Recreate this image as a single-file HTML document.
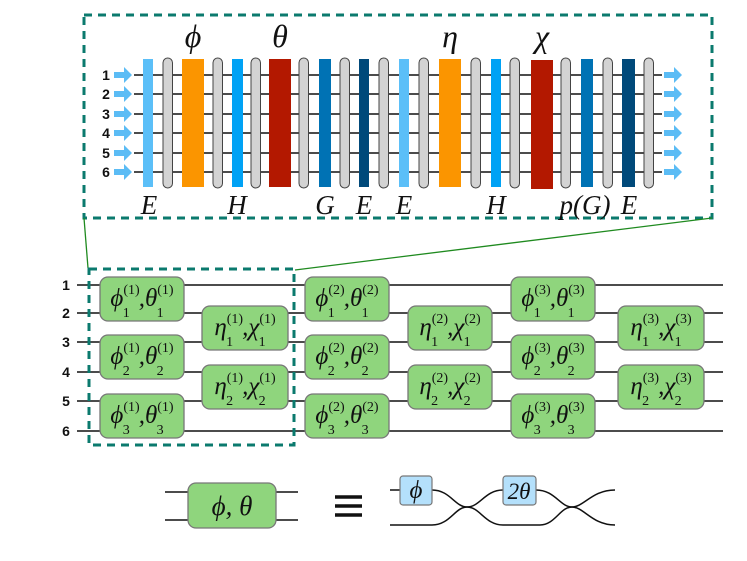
<!DOCTYPE html>
<html><head><meta charset="utf-8"><style>
html,body{margin:0;padding:0;background:#fff;}
svg{display:block;}
.m{font-family:"Liberation Serif","DejaVu Serif",serif;font-style:italic;font-size:25px;fill:#111;}
.s{font-style:normal;font-size:14px;}
.n{font-family:"Liberation Sans",sans-serif;font-weight:bold;font-size:14px;fill:#111;}
.lab{font-family:"Liberation Serif",serif;font-style:italic;font-size:27px;fill:#111;text-anchor:middle;}
.big{font-family:"Liberation Serif",serif;font-style:italic;font-size:32px;fill:#111;text-anchor:middle;}
.g{fill:#d3d3d3;stroke:#444;stroke-width:1;}
.bx{fill:#8fd57d;stroke:#777;stroke-width:1.3;}
</style></head><body>
<svg width="747" height="561" viewBox="0 0 747 561" xmlns="http://www.w3.org/2000/svg">
<rect x="84" y="15" width="628" height="203" fill="none" stroke="#0b7a6e" stroke-width="3" stroke-dasharray="8,6"/>
<line x1="84" y1="218" x2="88" y2="268" stroke="#1f8a1f" stroke-width="1.3"/>
<line x1="712" y1="218" x2="295" y2="270" stroke="#1f8a1f" stroke-width="1.3"/>
<g stroke="#111" stroke-width="1.5">
<line x1="134" y1="75" x2="662" y2="75"/><line x1="134" y1="94" x2="662" y2="94"/>
<line x1="134" y1="114" x2="662" y2="114"/><line x1="134" y1="133" x2="662" y2="133"/>
<line x1="134" y1="153" x2="662" y2="153"/><line x1="134" y1="172" x2="662" y2="172"/>
</g>
<g class="n" text-anchor="middle">
<text x="106" y="80">1</text><text x="106" y="99">2</text><text x="106" y="119">3</text>
<text x="106" y="138">4</text><text x="106" y="158">5</text><text x="106" y="177">6</text>
</g>
<g fill="#5bbcf5">
<path d="M114,72h10v-5l8,8l-8,8v-5h-10z"/><path d="M114,91h10v-5l8,8l-8,8v-5h-10z"/>
<path d="M114,111h10v-5l8,8l-8,8v-5h-10z"/><path d="M114,130h10v-5l8,8l-8,8v-5h-10z"/>
<path d="M114,150h10v-5l8,8l-8,8v-5h-10z"/><path d="M114,169h10v-5l8,8l-8,8v-5h-10z"/>
<path d="M664,72h10v-5l8,8l-8,8v-5h-10z"/><path d="M664,91h10v-5l8,8l-8,8v-5h-10z"/>
<path d="M664,111h10v-5l8,8l-8,8v-5h-10z"/><path d="M664,130h10v-5l8,8l-8,8v-5h-10z"/>
<path d="M664,150h10v-5l8,8l-8,8v-5h-10z"/><path d="M664,169h10v-5l8,8l-8,8v-5h-10z"/>
</g>
<rect x="143" y="59" width="10" height="128" fill="#5bbff8"/>
<rect x="182" y="59" width="22" height="128" fill="#fb9500"/>
<rect x="232" y="59" width="11" height="128" fill="#00a2f5"/>
<rect x="269" y="59" width="22" height="128" fill="#b31800"/>
<rect x="319" y="59" width="12" height="128" fill="#0072b4"/>
<rect x="359" y="59" width="10" height="128" fill="#00497a"/>
<rect x="399" y="59" width="10" height="128" fill="#5bbff8"/>
<rect x="439" y="59" width="22" height="128" fill="#fb9500"/>
<rect x="491" y="59" width="10" height="128" fill="#00a2f5"/>
<rect x="531" y="60" width="22" height="129" fill="#b31800"/>
<rect x="581" y="59" width="12" height="128" fill="#0072b4"/>
<rect x="622" y="59" width="13" height="128" fill="#00497a"/>
<g class="g">
<rect x="163" y="58" width="9.5" height="130" rx="4.75"/>
<rect x="213" y="58" width="9.5" height="130" rx="4.75"/>
<rect x="251" y="58" width="9.5" height="130" rx="4.75"/>
<rect x="299" y="58" width="9.5" height="130" rx="4.75"/>
<rect x="340" y="58" width="9.5" height="130" rx="4.75"/>
<rect x="379" y="58" width="9.5" height="130" rx="4.75"/>
<rect x="419" y="58" width="9.5" height="130" rx="4.75"/>
<rect x="471" y="58" width="9.5" height="130" rx="4.75"/>
<rect x="510" y="58" width="9.5" height="130" rx="4.75"/>
<rect x="561" y="58" width="9.5" height="130" rx="4.75"/>
<rect x="603" y="58" width="9.5" height="130" rx="4.75"/>
<rect x="644" y="58" width="9.5" height="130" rx="4.75"/>
</g>
<text class="big" x="193" y="47">ϕ</text>
<text class="big" x="280" y="47">θ</text>
<text class="big" x="450" y="47">η</text>
<text class="big" x="542" y="47">χ</text>
<g class="lab">
<text x="149" y="214">E</text><text x="237" y="214">H</text><text x="325" y="214">G</text>
<text x="364" y="214">E</text><text x="404" y="214">E</text><text x="496" y="214">H</text>
<text x="585" y="214">p(G)</text><text x="629" y="214">E</text>
</g>
<g stroke="#111" stroke-width="1.5">
<line x1="77" y1="285" x2="723" y2="285"/><line x1="77" y1="313" x2="723" y2="313"/>
<line x1="77" y1="342" x2="723" y2="342"/><line x1="77" y1="372" x2="723" y2="372"/>
<line x1="77" y1="401" x2="723" y2="401"/><line x1="77" y1="431" x2="723" y2="431"/>
</g>
<g class="n" text-anchor="middle">
<text x="66" y="290">1</text><text x="66" y="318">2</text><text x="66" y="347">3</text>
<text x="66" y="377">4</text><text x="66" y="406">5</text><text x="66" y="436">6</text>
</g>
<g class="bx">
<rect x="100" y="277" width="84" height="44" rx="8"/>
<rect x="100" y="335" width="84" height="44" rx="8"/>
<rect x="100" y="394" width="84" height="44" rx="8"/>
<rect x="202" y="306" width="86" height="44" rx="8"/>
<rect x="202" y="365" width="86" height="44" rx="8"/>
<rect x="305" y="277" width="84" height="44" rx="8"/>
<rect x="305" y="335" width="84" height="44" rx="8"/>
<rect x="305" y="394" width="84" height="44" rx="8"/>
<rect x="408" y="306" width="84" height="44" rx="8"/>
<rect x="408" y="365" width="84" height="44" rx="8"/>
<rect x="511" y="277" width="84" height="44" rx="8"/>
<rect x="511" y="335" width="84" height="44" rx="8"/>
<rect x="511" y="394" width="84" height="44" rx="8"/>
<rect x="618" y="306" width="86" height="44" rx="8"/>
<rect x="618" y="365" width="86" height="44" rx="8"/>
</g>
<g class="m" text-anchor="middle">
<text x="142" y="306">ϕ<tspan class="s" dy="-12">(1)</tspan><tspan class="s" dx="-17" dy="23">1</tspan><tspan dx="9" dy="-11">,θ</tspan><tspan class="s" dy="-12">(1)</tspan><tspan class="s" dx="-17" dy="23">1</tspan></text>
<text x="142" y="364">ϕ<tspan class="s" dy="-12">(1)</tspan><tspan class="s" dx="-17" dy="23">2</tspan><tspan dx="9" dy="-11">,θ</tspan><tspan class="s" dy="-12">(1)</tspan><tspan class="s" dx="-17" dy="23">2</tspan></text>
<text x="142" y="423">ϕ<tspan class="s" dy="-12">(1)</tspan><tspan class="s" dx="-17" dy="23">3</tspan><tspan dx="9" dy="-11">,θ</tspan><tspan class="s" dy="-12">(1)</tspan><tspan class="s" dx="-17" dy="23">3</tspan></text>
<text x="245" y="335">η<tspan class="s" dy="-12">(1)</tspan><tspan class="s" dx="-17" dy="23">1</tspan><tspan dx="9" dy="-11">,χ</tspan><tspan class="s" dy="-12">(1)</tspan><tspan class="s" dx="-17" dy="23">1</tspan></text>
<text x="245" y="394">η<tspan class="s" dy="-12">(1)</tspan><tspan class="s" dx="-17" dy="23">2</tspan><tspan dx="9" dy="-11">,χ</tspan><tspan class="s" dy="-12">(1)</tspan><tspan class="s" dx="-17" dy="23">2</tspan></text>
<text x="347" y="306">ϕ<tspan class="s" dy="-12">(2)</tspan><tspan class="s" dx="-17" dy="23">1</tspan><tspan dx="9" dy="-11">,θ</tspan><tspan class="s" dy="-12">(2)</tspan><tspan class="s" dx="-17" dy="23">1</tspan></text>
<text x="347" y="364">ϕ<tspan class="s" dy="-12">(2)</tspan><tspan class="s" dx="-17" dy="23">2</tspan><tspan dx="9" dy="-11">,θ</tspan><tspan class="s" dy="-12">(2)</tspan><tspan class="s" dx="-17" dy="23">2</tspan></text>
<text x="347" y="423">ϕ<tspan class="s" dy="-12">(2)</tspan><tspan class="s" dx="-17" dy="23">3</tspan><tspan dx="9" dy="-11">,θ</tspan><tspan class="s" dy="-12">(2)</tspan><tspan class="s" dx="-17" dy="23">3</tspan></text>
<text x="450" y="335">η<tspan class="s" dy="-12">(2)</tspan><tspan class="s" dx="-17" dy="23">1</tspan><tspan dx="9" dy="-11">,χ</tspan><tspan class="s" dy="-12">(2)</tspan><tspan class="s" dx="-17" dy="23">1</tspan></text>
<text x="450" y="394">η<tspan class="s" dy="-12">(2)</tspan><tspan class="s" dx="-17" dy="23">2</tspan><tspan dx="9" dy="-11">,χ</tspan><tspan class="s" dy="-12">(2)</tspan><tspan class="s" dx="-17" dy="23">2</tspan></text>
<text x="553" y="306">ϕ<tspan class="s" dy="-12">(3)</tspan><tspan class="s" dx="-17" dy="23">1</tspan><tspan dx="9" dy="-11">,θ</tspan><tspan class="s" dy="-12">(3)</tspan><tspan class="s" dx="-17" dy="23">1</tspan></text>
<text x="553" y="364">ϕ<tspan class="s" dy="-12">(3)</tspan><tspan class="s" dx="-17" dy="23">2</tspan><tspan dx="9" dy="-11">,θ</tspan><tspan class="s" dy="-12">(3)</tspan><tspan class="s" dx="-17" dy="23">2</tspan></text>
<text x="553" y="423">ϕ<tspan class="s" dy="-12">(3)</tspan><tspan class="s" dx="-17" dy="23">3</tspan><tspan dx="9" dy="-11">,θ</tspan><tspan class="s" dy="-12">(3)</tspan><tspan class="s" dx="-17" dy="23">3</tspan></text>
<text x="661" y="335">η<tspan class="s" dy="-12">(3)</tspan><tspan class="s" dx="-17" dy="23">1</tspan><tspan dx="9" dy="-11">,χ</tspan><tspan class="s" dy="-12">(3)</tspan><tspan class="s" dx="-17" dy="23">1</tspan></text>
<text x="661" y="394">η<tspan class="s" dy="-12">(3)</tspan><tspan class="s" dx="-17" dy="23">2</tspan><tspan dx="9" dy="-11">,χ</tspan><tspan class="s" dy="-12">(3)</tspan><tspan class="s" dx="-17" dy="23">2</tspan></text>
</g>
<rect x="89" y="269" width="205" height="176" fill="none" stroke="#0b7a6e" stroke-width="3" stroke-dasharray="8,6"/>
<g stroke="#111" stroke-width="1.5" fill="none">
<line x1="165" y1="492" x2="298" y2="492"/><line x1="165" y1="520" x2="298" y2="520"/>
<path d="M390,490 H432 C450,490 455,507 467,507 C480,507 485,525 503,525 H540 C555,525 560,507 572,507 C584,507 592,490 615,490"/>
<path d="M390,525 H432 C450,525 455,507 467,507 C480,507 485,490 503,490 H536 C555,490 560,507 572,507 C584,507 592,525 615,525"/>
</g>
<rect class="bx" x="188" y="483" width="88" height="45" rx="8"/>
<text class="m" x="232" y="515" text-anchor="middle" style="font-size:27px">ϕ, θ</text>
<g stroke="#111" stroke-width="3.5">
<line x1="335" y1="497" x2="362" y2="497"/><line x1="335" y1="506" x2="362" y2="506"/><line x1="335" y1="515" x2="362" y2="515"/>
</g>
<rect x="400" y="476" width="32" height="29" rx="3" fill="#b4e0fb" stroke="#777" stroke-width="1.2"/>
<rect x="503" y="476" width="33" height="29" rx="3" fill="#b4e0fb" stroke="#777" stroke-width="1.2"/>
<text class="m" x="416" y="498" text-anchor="middle">ϕ</text>
<text class="m" x="519" y="499" text-anchor="middle" style="font-size:23px">2θ</text>
</svg>
</body></html>
